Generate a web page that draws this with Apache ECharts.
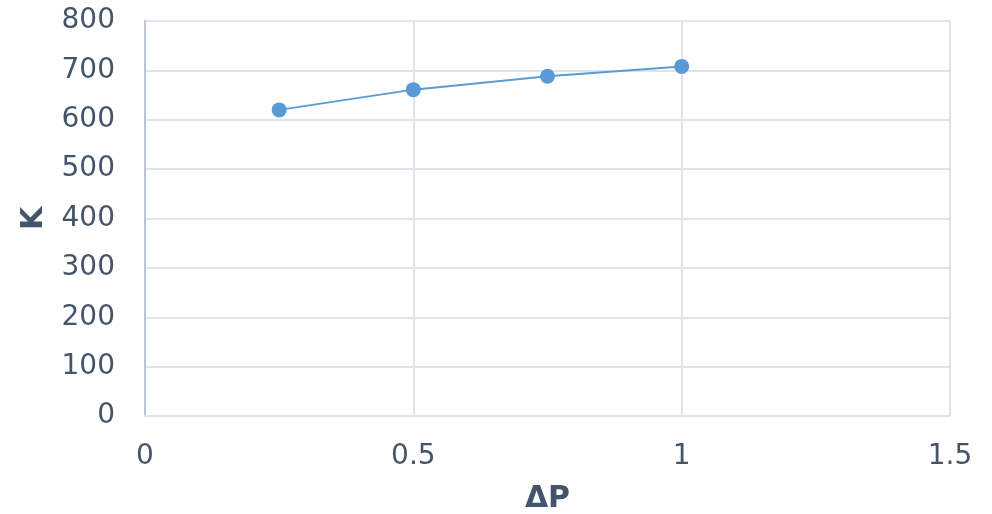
<!DOCTYPE html>
<html>
<head>
<meta charset="utf-8">
<script src="https://cdn.jsdelivr.net/npm/echarts@6/dist/echarts.min.js"></script>
<style>
  html, body { margin: 0; padding: 0; background: #ffffff; }
  #chart { width: 992px; height: 514px; }
</style>
</head>
<body>
<div id="chart"></div>
<script>
// ΔP values and the measured K at each one
const deltaP = [0.25, 0.5, 0.75, 1];
const kValues = [620, 661, 688, 708];

const xTicks = { min: 0, max: 1.5, interval: 0.5 };
const yTicks = { min: 0, max: 800, interval: 100 };

const textColor = '#44546a';
const gridColor = '#dfe3ea';
const fontFamily = 'DejaVu Sans, sans-serif';

const chart = echarts.init(document.getElementById('chart'));
chart.setOption({
  animation: false,
  backgroundColor: '#ffffff',
  grid: { left: 145, right: 42, top: 21, bottom: 98, outerBoundsMode: 'none', containLabel: false },
  xAxis: {
    type: 'value',
    min: xTicks.min, max: xTicks.max, interval: xTicks.interval,
    name: 'ΔP',
    nameLocation: 'middle',
    nameGap: 68,
    nameTextStyle: { color: textColor, fontSize: 30, fontWeight: 'bold', fontFamily: fontFamily },
    axisLine: { show: true, lineStyle: { color: gridColor, width: 2 } },
    axisTick: { show: false },
    splitLine: { show: true, lineStyle: { color: gridColor, width: 2 } },
    axisLabel: { color: textColor, fontSize: 28, fontFamily: fontFamily, margin: 27 }
  },
  yAxis: {
    type: 'value',
    min: yTicks.min, max: yTicks.max, interval: yTicks.interval,
    name: 'K',
    nameLocation: 'middle',
    nameGap: 96,
    nameRotate: 90,
    nameTextStyle: { color: textColor, fontSize: 30, fontWeight: 'bold', fontFamily: fontFamily },
    axisLine: { show: true, lineStyle: { color: '#bcc5d3', width: 2 } },
    axisTick: { show: false },
    splitLine: { show: true, lineStyle: { color: gridColor, width: 2 } },
    axisLabel: { color: textColor, fontSize: 28, fontFamily: fontFamily, margin: 30 }
  },
  series: [{
    type: 'line',
    data: deltaP.map((x, i) => [x, kValues[i]]),
    symbol: 'circle',
    symbolSize: 15,
    itemStyle: { color: '#5b9bd5' },
    lineStyle: { color: '#5b9bd5', width: 2 }
  }]
});
</script>
</body>
</html>
